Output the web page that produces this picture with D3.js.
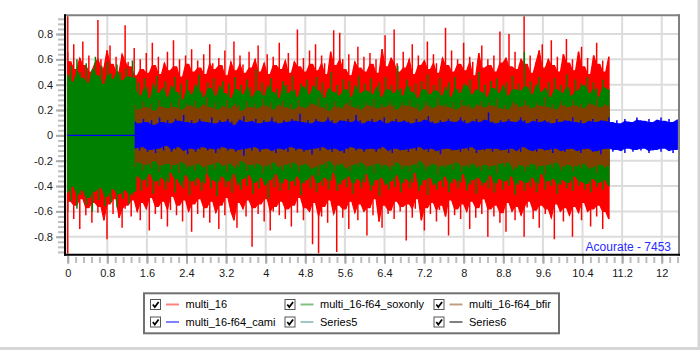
<!DOCTYPE html>
<html>
<head>
<meta charset="utf-8">
<script src="https://cdn.jsdelivr.net/npm/d3@7"></script>
<style>
  html, body { margin: 0; padding: 0; background: #fff; }
  svg { display: block; }
  text { font-family: "Liberation Sans", Arial, sans-serif; }
</style>
</head>
<body>
<svg id="chart" width="700" height="350"></svg>
<script>
// ---- axis ticks ----
const xTicks = [0, 0.8, 1.6, 2.4, 3.2, 4, 4.8, 5.6, 6.4, 7.2, 8, 8.8, 9.6, 10.4, 11.2, 12];
const xTickLabels = ["0", "0.8", "1.6", "2.4", "3.2", "4", "4.8", "5.6", "6.4", "7.2", "8", "8.8", "9.6", "10.4", "11.2", "12"];
const yTicks = [-0.8, -0.6, -0.4, -0.2, 0, 0.2, 0.4, 0.6, 0.8];
const yTickLabels = ["-0.8", "-0.6", "-0.4", "-0.2", "0", "0.2", "0.4", "0.6", "0.8"];

// ---- legend ----
const legendNames = ["multi_16", "multi_16-f64_soxonly", "multi_16-f64_bfir", "multi_16-f64_cami", "Series5", "Series6"];
const legendColors = ["#ff8080", "#80c080", "#c0a080", "#8080ff", "#a0c6c6", "#808080"];
const footnote = "Acourate - 7453";

// ---- signal envelopes (per-column peak max / min) ----
// multi_16: onset click, then 0 .. 10.93 s
const redOnsetMax = [1.2];
const redOnsetMin = [-1.2];
const redMax = [
  .66,.58,.72,.52,.61,.74,.55,.63,.5,.57,  .91,.6,.53,.67,.71,.56,.62,.5,.64,.87,
  .58,.54,.69,.47,.6,.52,.65,.49,.73,.55,  .62,.48,.57,.66,.51,.75,.54,.6,.46,.63,
  .56,.68,.5,.59,.53,.64,.48,.72,.57,.52,  .61,.55,.67,.47,.58,.74,.51,.63,.56,.49,
  .66,.53,.6,.71,.5,.57,.64,.48,.62,.55,   .73,.52,.59,.65,.49,.58,.835,.54,.61,.5,
  .67,.56,.72,.51,.63,.57,.48,.66,.83,.55, .81,.6,.52,.64,.47,.58,.7,.53,.62,.5,
  .65,.56,.6,.49,.68,.79,.54,.61,.835,.57, .5,.66,.53,.6,.72,.48,.63,.55,.59,.74,
  .52,.64,.57,.49,.61,.85,.55,.67,.5,.6,   .56,.73,.51,.62,.58,.47,.65,.71,.53,.6,
  .55,.63,.5,.82,.57,.61,.8,.54,.66,.52,   .6,.945,.56,.63,.49,.58,.67,.72,.53,.6,
  .75,.55,.62,.5,.64,.76,.57,.6,.51,.66,   .7,.54,.61,.48,.63,.73,.56,.59,.5,.62
];
const redMin = [
  -.6,-.52,-.66,-.55,-.74,-.5,-.63,-.57,-.69,-.53,  -.61,-.56,-.67,-.82,-.54,-.62,-.5,-.65,-.73,-.58,
  -.55,-.64,-.51,-.6,-.67,-.53,-.58,-.75,-.49,-.62, -.56,-.66,-.52,-.72,-.59,-.48,-.63,-.55,-.68,-.51,
  -.6,-.76,-.54,-.62,-.5,-.65,-.57,-.69,-.52,-.61,  -.74,-.55,-.63,-.49,-.6,-.67,-.73,-.53,-.58,-.64,
  -.51,-.88,-.57,-.62,-.54,-.68,-.5,-.75,-.6,-.56,  -.63,-.52,-.66,-.58,-.72,-.55,-.61,-.49,-.67,-.57,
  -.6,-.86,-.53,-.93,-.64,-.56,-.69,-.51,-.62,-.92, -.55,-.65,-.58,-.74,-.52,-.61,-.67,-.54,-.6,-.79,
  -.57,-.63,-.5,-.68,-.73,-.55,-.62,-.59,-.66,-.52, -.6,-.56,-.83,-.54,-.65,-.58,-.5,-.67,-.75,-.57,
  -.62,-.53,-.68,-.59,-.55,-.64,-.79,-.51,-.63,-.58, -.66,-.54,-.6,-.74,-.52,-.65,-.57,-.62,-.5,-.8,
  -.58,-.64,-.55,-.69,-.61,-.76,-.53,-.6,-.67,-.56, -.63,-.8,-.57,-.52,-.66,-.59,-.73,-.55,-.62,-.58,
  -.65,-.82,-.54,-.6,-.68,-.57,-.63,-.8,-.56,-.61,  -.67,-.53,-.6,-.72,-.58,-.64,-.55,-.74,-.6,-.66
];

// multi_16-f64_soxonly: 0 .. 1.37 s, then 1.37 .. 10.93 s
const greenHeadMax = [.48,.55,.42,.6,.5,.45,.57,.41,.52,.62,.47,.55,.4,.58,.49,.44,.56,.5,.43,.53,.46,.59,.45];
const greenHeadMin = [-.45,-.52,-.4,-.58,-.47,-.43,-.55,-.49,-.6,-.44,-.51,-.41,-.56,-.48,-.53,-.42,-.57,-.46,-.5,-.43,-.54,-.47,-.44];
const greenMax = [
  .36,.42,.31,.45,.38,.29,.4,.47,.33,.37,  .43,.3,.39,.46,.34,.41,.28,.44,.36,.32,
  .4,.48,.35,.3,.42,.37,.45,.31,.39,.43,   .33,.41,.29,.46,.36,.4,.32,.44,.38,.3,
  .52,.35,.42,.31,.39,.45,.34,.37,.29,.43, .4,.33,.47,.36,.3,.41,.38,.44,.32,.39,
  .46,.35,.42,.29,.37,.5,.34,.4,.31,.44,   .36,.43,.3,.39,.47,.33,.41,.35,.45,.32,
  .38,.42,.3,.46,.36,.4,.33,.55,.37,.31,   .44,.39,.34,.41,.29,.43,.36,.48,.32,.4,
  .35,.45,.31,.38,.42,.3,.46,.37,.33,.41,  .39,.44,.32,.36,.5,.34,.4,.3,.43,.37,
  .45,.33,.39,.42,.31,.47,.36,.41,.35,.66, .38,.43,.32,.4,.46,.34,.37,.42,.3,.45,
  .36,.4,.33,.48,.38,.31,.44,.35,.41,.39,  .46,.33,.42,.37,.3,.44,.38,.36
];
const greenMin = [
  -.38,-.32,-.44,-.35,-.41,-.3,-.46,-.36,-.4,-.33,  -.43,-.37,-.29,-.45,-.34,-.39,-.42,-.31,-.47,-.36,
  -.4,-.33,-.44,-.38,-.3,-.42,-.35,-.48,-.37,-.32,  -.41,-.36,-.45,-.3,-.39,-.43,-.34,-.4,-.31,-.46,
  -.37,-.42,-.33,-.39,-.5,-.35,-.41,-.3,-.44,-.38,  -.34,-.43,-.36,-.4,-.32,-.47,-.38,-.35,-.42,-.31,
  -.45,-.37,-.4,-.33,-.43,-.36,-.29,-.44,-.39,-.35, -.41,-.32,-.46,-.38,-.34,-.42,-.37,-.3,-.44,-.4,
  -.35,-.48,-.33,-.39,-.43,-.36,-.41,-.31,-.45,-.38, -.34,-.42,-.37,-.29,-.44,-.4,-.35,-.47,-.33,-.39,
  -.43,-.36,-.41,-.32,-.45,-.38,-.34,-.42,-.37,-.3,  -.44,-.39,-.35,-.46,-.33,-.4,-.37,-.42,-.31,-.45,
  -.38,-.34,-.43,-.36,-.4,-.32,-.47,-.39,-.35,-.44, -.37,-.41,-.33,-.45,-.38,-.3,-.43,-.36,-.4,-.34,
  -.46,-.39,-.35,-.42,-.37,-.44,-.32,-.4,-.36,-.43, -.38,-.45,-.34,-.41,-.37,-.43,-.35,-.4
];

// multi_16-f64_bfir: 1.37 .. 10.93 s
const brownMax = [
  .24,.2,.27,.22,.25,.19,.28,.23,.21,.26,  .22,.29,.2,.25,.23,.27,.21,.24,.3,.22,
  .26,.2,.23,.28,.21,.25,.24,.19,.27,.22,  .25,.21,.29,.23,.26,.2,.24,.27,.22,.25,
  .2,.28,.23,.21,.26,.24,.3,.22,.25,.19,   .27,.23,.21,.25,.28,.22,.24,.2,.26,.23,
  .29,.21,.25,.22,.27,.24,.2,.26,.23,.28,  .22,.25,.19,.27,.24,.21,.3,.23,.25,.22,
  .26,.2,.28,.23,.25,.21,.24,.27,.22,.26,  .23,.29,.21,.24,.2,.27,.25,.22,.28,.24,
  .21,.26,.23,.3,.22,.25,.2,.27,.24,.22,   .28,.23,.25,.21,.26,.24,.29,.22,.25,.23
];
const brownMin = [
  -.25,-.21,-.28,-.23,-.26,-.2,-.29,-.24,-.22,-.27,  -.23,-.3,-.21,-.26,-.24,-.28,-.22,-.25,-.31,-.23,
  -.27,-.21,-.24,-.29,-.22,-.26,-.25,-.2,-.28,-.23,  -.26,-.22,-.3,-.24,-.27,-.21,-.25,-.28,-.23,-.26,
  -.21,-.29,-.24,-.22,-.27,-.25,-.32,-.23,-.26,-.2,  -.28,-.24,-.22,-.26,-.29,-.23,-.25,-.21,-.27,-.24,
  -.3,-.22,-.26,-.23,-.28,-.25,-.21,-.27,-.24,-.29,  -.23,-.26,-.2,-.28,-.25,-.22,-.31,-.24,-.26,-.23,
  -.27,-.21,-.29,-.24,-.26,-.22,-.25,-.28,-.23,-.27, -.24,-.3,-.22,-.25,-.21,-.28,-.26,-.23,-.29,-.25,
  -.22,-.27,-.24,-.31,-.23,-.26,-.21,-.28,-.25,-.23, -.29,-.24,-.26,-.22,-.27,-.25,-.3,-.23,-.26,-.24
];

// multi_16-f64_cami: silent 0 .. 1.37 s, then 1.37 .. 12.31 s
const blueHeadMax = [0, 0];
const blueHeadMin = [0, 0];
const blueMax = [
  .11,.09,.13,.1,.12,.08,.14,.1,.12,.09,  .13,.11,.16,.1,.12,.09,.13,.11,.1,.14,
  .09,.12,.1,.13,.11,.08,.12,.15,.1,.11,  .13,.09,.12,.1,.14,.11,.09,.12,.1,.13,
  .11,.17,.1,.12,.09,.13,.11,.1,.14,.12,  .09,.12,.11,.13,.1,.16,.12,.09,.11,.13,
  .1,.12,.14,.09,.11,.13,.1,.12,.11,.09,  .13,.1,.12,.15,.11,.09,.12,.1,.13,.11,
  .1,.14,.12,.09,.11,.13,.1,.12,.18,.11,  .09,.12,.1,.13,.11,.1,.14,.12,.09,.11,
  .13,.1,.12,.11,.09,.13,.1,.12,.11,.14,  .1,.12,.09,.11,.13,.1,.12,.11,.14,.1,
  .12,.09,.13,.11,.1,.14,.12,.11,.13,.1,  .12,.14,.11,.13,.1,.12
];
const blueMin = [
  -.1,-.12,-.09,-.13,-.11,-.14,-.1,-.12,-.08,-.13,  -.11,-.09,-.12,-.15,-.1,-.13,-.11,-.09,-.12,-.1,
  -.14,-.11,-.09,-.12,-.1,-.13,-.11,-.16,-.1,-.12,  -.09,-.13,-.11,-.1,-.12,-.14,-.1,-.11,-.13,-.09,
  -.12,-.1,-.13,-.11,-.15,-.1,-.12,-.09,-.11,-.13,  -.1,-.12,-.14,-.11,-.09,-.12,-.1,-.13,-.11,-.1,
  -.13,-.11,-.09,-.12,-.14,-.1,-.12,-.11,-.13,-.1,  -.12,-.09,-.11,-.13,-.1,-.12,-.15,-.11,-.1,-.12,
  -.11,-.13,-.1,-.12,-.09,-.14,-.11,-.12,-.1,-.13,  -.1,-.12,-.11,-.14,-.1,-.12,-.13,-.09,-.11,-.12,
  -.13,-.1,-.12,-.11,-.14,-.1,-.12,-.13,-.11,-.1,   -.12,-.14,-.11,-.1,-.13,-.12,-.15,-.11,-.1,-.13,
  -.11,-.12,-.14,-.1,-.13,-.11,-.12,-.1,-.14,-.12,  -.11,-.13,-.1,-.12,-.14,-.11
];

// draw order: first listed sits underneath
const series = [
  { color: "#ff0000", segments: [
      { start: 0, end: 0, max: redOnsetMax, min: redOnsetMin },
      { start: 0, end: 10.93, max: redMax, min: redMin } ] },
  { color: "#008000", segments: [
      { start: 0, end: 1.37, max: greenHeadMax, min: greenHeadMin },
      { start: 1.37, end: 10.93, max: greenMax, min: greenMin } ] },
  { color: "#804000", segments: [
      { start: 1.37, end: 10.93, max: brownMax, min: brownMin } ] },
  { color: "#0000ff", segments: [
      { start: 0, end: 1.37, max: blueHeadMax, min: blueHeadMin },
      { start: 1.37, end: 12.31, max: blueMax, min: blueMin } ] }
];

// ---- layout ----
const plot = { left: 66, right: 678, top: 16.3, bottom: 253.7 };
const x = d3.scaleLinear().domain([-0.0343, 12.329]).range([plot.left, plot.right]);
const y = d3.scaleLinear().domain([-0.934, 0.9397]).range([plot.bottom, plot.top]);

const svg = d3.select("#chart");

// window frame strips
svg.append("rect").attr("x", 697.5).attr("y", 0).attr("width", 2.5).attr("height", 350).attr("fill", "#d6d6d6");
svg.append("rect").attr("x", 0).attr("y", 347).attr("width", 700).attr("height", 3).attr("fill", "#d6d6d6");

svg.append("defs").append("clipPath").attr("id", "plotClip")
  .append("rect")
  .attr("x", plot.left).attr("y", plot.top)
  .attr("width", plot.right - plot.left).attr("height", plot.bottom - plot.top);

// grid
const grid = svg.append("g").attr("stroke", "#dcdcdc").attr("stroke-width", 2);
grid.selectAll("line.v").data(xTicks).join("line")
  .attr("x1", d => x(d)).attr("x2", d => x(d))
  .attr("y1", plot.top).attr("y2", plot.bottom);
grid.selectAll("line.h").data(yTicks).join("line")
  .attr("x1", plot.left).attr("x2", plot.right)
  .attr("y1", d => y(d)).attr("y2", d => y(d));

// signals: a solid body spanning the levels that adjacent columns share,
// plus a thin vertical stroke per column from its min to its max
const bodyArea = d3.area()
  .x(d => x(d.t))
  .y0(d => y(d.bodyLo))
  .y1(d => y(d.bodyHi));

const dataG = svg.append("g").attr("clip-path", "url(#plotClip)");
series.forEach(s => {
  s.segments.forEach(seg => {
    const n = seg.max.length;
    const pts = seg.max.map((v, i) => {
      const nb = [i, i + 1].filter(k => k < n);
      return {
        t: n > 1 ? seg.start + (seg.end - seg.start) * i / (n - 1) : seg.start,
        hi: v,
        lo: seg.min[i],
        bodyHi: d3.min(nb, k => seg.max[k]),
        bodyLo: d3.max(nb, k => seg.min[k])
      };
    });
    const g = dataG.append("g");
    if (n > 1) {
      g.append("path")
        .datum(pts)
        .attr("d", bodyArea)
        .attr("fill", s.color)
        .attr("stroke", s.color)
        .attr("stroke-width", 1.2);
    }
    g.selectAll("line").data(pts).join("line")
      .attr("x1", d => x(d.t)).attr("x2", d => x(d.t))
      .attr("y1", d => y(d.hi)).attr("y2", d => y(d.lo))
      .attr("stroke", s.color)
      .attr("stroke-width", 1.5);
  });
});

// x axis ticks (minor + major) using d3 axes
const xMinor = d3.range(0, 12.33, 0.16);
const xMinorAxis = d3.axisBottom(x).tickValues(xMinor).tickSize(6).tickFormat("");
const gxm = svg.append("g").attr("transform", `translate(0,${plot.bottom + 3.3})`).call(xMinorAxis);
gxm.select(".domain").remove();
gxm.selectAll(".tick line").attr("stroke", "#bdbdbd").attr("stroke-width", 2);

const xAxis = d3.axisBottom(x).tickValues(xTicks).tickSize(10).tickPadding(6)
  .tickFormat((d, i) => xTickLabels[i]);
const gx = svg.append("g").attr("transform", `translate(0,${plot.bottom})`).call(xAxis);
gx.select(".domain").remove();
gx.selectAll(".tick line").attr("stroke", "#ababab").attr("stroke-width", 2);
gx.selectAll(".tick text")
  .attr("font-family", "Liberation Sans, Arial, sans-serif")
  .attr("font-size", 11).attr("fill", "#1a1a1a");

// y axis ticks
const yMinor = d3.range(-0.92, 0.94, 0.04);
const yMinorAxis = d3.axisLeft(y).tickValues(yMinor).tickSize(6).tickFormat("");
const gym = svg.append("g").attr("transform", `translate(${plot.left - 2},0)`).call(yMinorAxis);
gym.select(".domain").remove();
gym.selectAll(".tick line").attr("stroke", "#bdbdbd").attr("stroke-width", 2);

const yAxis = d3.axisLeft(y).tickValues(yTicks).tickSize(8).tickPadding(3)
  .tickFormat((d, i) => yTickLabels[i]);
const gy = svg.append("g").attr("transform", `translate(${plot.left - 2},0)`).call(yAxis);
gy.select(".domain").remove();
gy.selectAll(".tick line").attr("stroke", "#ababab").attr("stroke-width", 2);
gy.selectAll(".tick text")
  .attr("font-family", "Liberation Sans, Arial, sans-serif")
  .attr("font-size", 11).attr("fill", "#1a1a1a");

// plot frame: gray top/right, black axis lines left/bottom
svg.append("line").attr("x1", 64).attr("x2", 680).attr("y1", 15.3).attr("y2", 15.3)
  .attr("stroke", "#808080").attr("stroke-width", 2);
svg.append("line").attr("x1", 679).attr("x2", 679).attr("y1", 14.3).attr("y2", 255.7)
  .attr("stroke", "#808080").attr("stroke-width", 2);
svg.append("line").attr("x1", 65).attr("x2", 65).attr("y1", 14.3).attr("y2", 255.7)
  .attr("stroke", "#000").attr("stroke-width", 2);
svg.append("line").attr("x1", 64).attr("x2", 680).attr("y1", 254.7).attr("y2", 254.7)
  .attr("stroke", "#000").attr("stroke-width", 2);

// footnote inside the plot
svg.append("text")
  .attr("x", 671).attr("y", 250.5)
  .attr("text-anchor", "end")
  .attr("font-size", 12)
  .attr("fill", "#2a2aff")
  .text(footnote);

// legend
const lg = svg.append("g");
lg.append("rect").attr("x", 144).attr("y", 293.3).attr("width", 415).attr("height", 40)
  .attr("fill", "#fff").attr("stroke", "#707070").attr("stroke-width", 2);
const colX = [150, 284.5, 433.5];
const rowY = [304.5, 322];
legendNames.forEach((name, i) => {
  const cx = colX[i % 3], cy = rowY[Math.floor(i / 3)];
  const item = lg.append("g").attr("transform", `translate(${cx},${cy})`);
  item.append("rect").attr("x", 0.5).attr("y", -5).attr("width", 10).attr("height", 10)
    .attr("fill", "#fff").attr("stroke", "#555").attr("stroke-width", 1);
  item.append("path").attr("d", "M2.8,0 L4.8,2.6 L8.6,-2.6")
    .attr("fill", "none").attr("stroke", "#000").attr("stroke-width", 1.7);
  item.append("line").attr("x1", 16).attr("x2", 29).attr("y1", 0).attr("y2", 0)
    .attr("stroke", legendColors[i]).attr("stroke-width", 2);
  item.append("text").attr("x", 35.5).attr("y", 0).attr("dy", "0.36em")
    .attr("font-size", 11).attr("fill", "#000").text(name);
});
</script>
</body>
</html>
